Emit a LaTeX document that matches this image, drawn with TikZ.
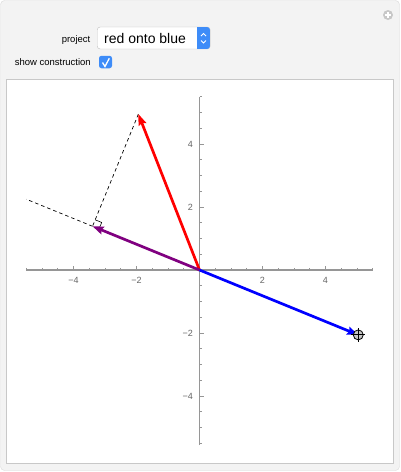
\documentclass[tikz,border=0pt]{standalone}
\usepackage{fontspec}
\setmainfont{Liberation Sans}
\usetikzlibrary{arrows.meta,calc}
\definecolor{panelbg}{RGB}{243,243,243}
\definecolor{panelline}{RGB}{218,218,218}
\definecolor{framegray}{RGB}{200,200,200}
\definecolor{uiblue}{RGB}{62,140,248}
\definecolor{axisgray}{RGB}{150,150,150}
\definecolor{mpurple}{rgb}{0.5,0,0.5}

\begin{document}
\begin{tikzpicture}[x=1pt,y=-1pt,
  lbl/.style={font=\fontsize{9.5}{11}\selectfont,inner sep=0pt},
  tck/.style={font=\fontsize{9}{10}\selectfont,text=black!60,inner sep=0pt},
  vec/.style={line width=2.7pt,-{Stealth[length=11pt,width=8pt,inset=1.5pt]}},
  constr/.style={black,line width=0.7pt,dash pattern=on 3.5pt off 3pt}]
\useasboundingbox (0,0) rectangle (400,472);
\filldraw[fill=panelbg,draw=panelline,rounded corners=4pt] (0.5,0.5) rectangle (399.5,470.5);
\filldraw[fill=white,draw=framegray] (6.5,79.5) rectangle (393,463);

\node[circle,fill=black!22,minimum size=10pt,inner sep=0pt] (plus) at (388,15) {};
\draw[white,line width=1.5pt] ($(plus)+(-3,0)$) -- ($(plus)+(3,0)$) ($(plus)+(0,-3)$) -- ($(plus)+(0,3)$);

\node[lbl,anchor=base east] (projlbl) at (90.5,42.5) {project};
\node[lbl,anchor=base east] (showlbl) at (91,65.3) {show construction};

\node[draw=black!25,fill=white,rounded corners=3pt,minimum width=113pt,minimum height=22pt,inner sep=0pt,anchor=west] (menu) at (97,38) {};
\begin{scope}
\clip[rounded corners=3pt] (97,27) rectangle (210,49);
\fill[uiblue] (197,27) rectangle (210,49);
\end{scope}
\draw[white,line width=1pt] (201,36) -- (203.5,33.5) -- (206,36) (201,40.5) -- (203.5,43) -- (206,40.5);
\node[font=\fontsize{14}{16}\selectfont,anchor=base west,inner sep=0pt] (menutxt) at (104,43.3) {red onto blue};

\node[fill=uiblue,rounded corners=2.5pt,minimum width=13pt,minimum height=12.5pt,inner sep=0pt] (chk) at (105.5,62) {};
\draw[white,line width=1.3pt] (102.5,62.5) -- (105,66.5) -- (109.3,58.3);

\begin{scope}[shift={(199.5pt,-270pt)},x=31.5pt,y=31.5pt]
\coordinate (O) at (0,0);
\coordinate (R) at (-1.94,4.95);
\coordinate (B) at (5.04,-2.06);
\coordinate (P) at ($(O)!(R)!(B)$);
\coordinate (E) at ($(O)!-1.0913!(B)$);
\coordinate (xa) at (-5.5,0);
\coordinate (xb) at (5.5,0);
\coordinate (ya) at (0,-5.56);
\coordinate (yb) at (0,5.5);

\draw[axisgray,line width=1.2pt] (xa) -- (xb);
\draw[axisgray,line width=1.2pt] (ya) -- (yb);
\foreach \i in {-11,...,11}{
  \ifnum\i=0\relax\else
  \draw[axisgray,line width=0.8pt] (\i/2,0) -- ++(0,2.5pt);
  \draw[axisgray,line width=0.8pt] (0,\i/2) -- ++(2.5pt,0);
  \fi}
\foreach \t/\s in {-4/−4,-2/−2,2/2,4/4}{
  \draw[axisgray,line width=0.8pt] (\t,0) -- ++(0,4pt);
  \draw[axisgray,line width=0.8pt] (0,\t) -- ++(4pt,0);
  \node[tck,anchor=north] (xl\t) at ([yshift=-7.5pt]\t,0) {\s};
  \node[tck,anchor=east] (yl\t) at ([xshift=-6.5pt]0,\t) {\s};}

\draw[constr] (R) -- (P);
\draw[constr] (P) -- (E);
\coordinate (ma) at ($(P)!7pt!(O)$);
\coordinate (mb) at ($(P)!7pt!(R)$);
\draw[black,line width=0.6pt] (ma) -- ($(ma)+(mb)-(P)$) -- (mb);

\draw[vec,red] (O) -- (R);
\draw[vec,mpurple] (O) -- (P);
\draw[vec,blue] (O) -- (B);

\node[circle,draw=black,fill=black!22,line width=0.8pt,minimum size=10pt,inner sep=0pt] (loc) at (B) {};
\draw[black,line width=0.8pt] ($(loc)+(-7pt,0)$) -- ($(loc)+(7pt,0)$) ($(loc)+(0,-7pt)$) -- ($(loc)+(0,7pt)$);
\end{scope}
\end{tikzpicture}
\end{document}
